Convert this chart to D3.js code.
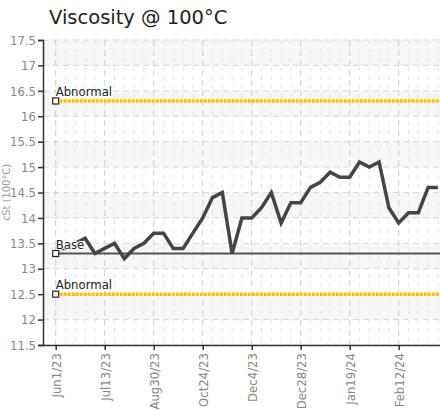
<html>
  <head>
    <title>Viscosity</title>
    <style>
      body { margin: 0; background: #fff; }
      text { font-family: "Liberation Sans Narrow", "DejaVu Sans Condensed", sans-serif; }
    </style>
  </head>
  <body>
  </body>

  <script src="https://d3js.org/d3.v7.min.js" charset="utf-8"></script>
  <script type="text/javascript">

// one reading per sample, labels only shown on every 5th sample
var viscosity = [13.4, 13.4, 13.5, 13.6, 13.3, 13.4, 13.5, 13.2, 13.4, 13.5,
                 13.7, 13.7, 13.4, 13.4, 13.7, 14.0, 14.4, 14.5, 13.3, 14.0,
                 14.0, 14.2, 14.5, 13.9, 14.3, 14.3, 14.6, 14.7, 14.9, 14.8,
                 14.8, 15.1, 15.0, 15.1, 14.2, 13.9, 14.1, 14.1, 14.6, 14.6];
var tick_index = [0, 5, 10, 15, 20, 25, 30, 35];
var tick_labels = ['Jun1/23', 'Jul13/23', 'Aug30/23', 'Oct24/23', 'Dec4/23', 'Dec28/23', 'Jan19/24', 'Feb12/24'];
var y_ticks = [11.5, 12, 12.5, 13, 13.5, 14, 14.5, 15, 15.5, 16, 16.5, 17, 17.5];

var limit_names = ['Abnormal', 'Base', 'Abnormal'];
var limit_values = [16.3, 13.3, 12.5];
var limit_kind = ['abnormal', 'base', 'abnormal'];

var w = 440, h = 411;
var m_left = 43, m_top = 40, m_bottom = 345, m_right = 445;

var svg = d3.select('body').append('svg')
    .attr('width', w)
    .attr('height', h);

var x = d3.scaleLinear().domain([0, viscosity.length - 1]).range([55.7, 437.9]);
var y = d3.scaleLinear().domain([11.5, 17.5]).range([m_bottom, m_top]);

// alternating bands
svg.selectAll('rect.band')
   .data(y_ticks.slice(0, -1))
   .enter()
   .append('rect')
   .attr('x', m_left)
   .attr('width', m_right - m_left)
   .attr('y', function(d){ return y(d + 0.5); })
   .attr('height', function(d){ return y(d) - y(d + 0.5); })
   .style('fill', function(d, i){
     return (i % 2 == 1) ? '#f6f6f6' : '#fff';
   });

// horizontal grid
svg.selectAll('line.hgrid')
   .data(y_ticks)
   .enter()
   .append('line')
   .attr('x1', m_left).attr('x2', m_right)
   .attr('y1', function(d){ return y(d); })
   .attr('y2', function(d){ return y(d); })
   .style('stroke', '#d8d8d8')
   .style('stroke-dasharray', '6,4');

// vertical grid, one per sample
svg.selectAll('line.vgrid')
   .data(d3.range(viscosity.length))
   .enter()
   .append('line')
   .attr('x1', function(d){ return x(d); })
   .attr('x2', function(d){ return x(d); })
   .attr('y1', m_top).attr('y2', m_bottom)
   .style('stroke', function(d){ return (d % 5 == 0) ? '#d0d0d0' : '#e6e6e6'; })
   .style('stroke-dasharray', function(d){ return (d % 5 == 0) ? '6,4' : '4,5'; });

// limit lines
var limits = limit_values.map(function(v, i){
  return {name: limit_names[i], value: v, kind: limit_kind[i]};
});

svg.selectAll('line.limit')
   .data(limits)
   .enter()
   .append('line')
   .attr('x1', x(0)).attr('x2', m_right)
   .attr('y1', function(d){ return y(d.value); })
   .attr('y2', function(d){ return y(d.value); })
   .style('stroke', function(d){ return d.kind == 'base' ? '#555' : '#f7c300'; })
   .style('stroke-width', function(d){ return d.kind == 'base' ? 2 : 3.5; })
   .style('stroke-dasharray', function(d){ return d.kind == 'base' ? null : '3,1'; });

// data line
var line = d3.line()
    .x(function(d, i){ return x(i); })
    .y(function(d){ return y(d); });

svg.append('path')
   .datum(viscosity)
   .attr('d', line)
   .style('fill', 'none')
   .style('stroke', '#444')
   .style('stroke-width', 3.5)
   .style('stroke-linejoin', 'miter');

// limit markers and labels
svg.selectAll('rect.marker')
   .data(limits)
   .enter()
   .append('rect')
   .attr('x', x(0) - 3)
   .attr('y', function(d){ return y(d.value) - 3; })
   .attr('width', 6).attr('height', 6)
   .style('fill', '#fff')
   .style('stroke', '#222')
   .style('stroke-width', 1.2);

svg.selectAll('text.limit')
   .data(limits)
   .enter()
   .append('text')
   .attr('x', x(0))
   .attr('y', function(d){ return y(d.value) - 5; })
   .text(function(d){ return d.name; })
   .style('font-size', '13px')
   .style('fill', '#222')
   .style('stroke', '#fff')
   .style('stroke-width', 2)
   .style('paint-order', 'stroke');

// axes
var yAxis = d3.axisLeft(y)
    .tickValues(y_ticks)
    .tickFormat(function(d){ return d3.format('')(d); })
    .tickSize(5);

var gy = svg.append('g')
   .attr('transform', 'translate(' + m_left + ',0)')
   .call(yAxis);

gy.selectAll('text')
  .style('font-size', '13px')
  .style('fill', '#888')
  .attr('x', -7);

var xAxis = d3.axisBottom(x)
    .tickValues(tick_index)
    .tickFormat(function(d, i){ return tick_labels[i]; })
    .tickSize(5)
    .tickSizeOuter(0);

var gx = svg.append('g')
   .attr('transform', 'translate(0,' + m_bottom + ')')
   .call(xAxis);

gx.select('.domain').attr('d', 'M' + m_left + ',0.5H' + m_right);

gx.selectAll('text')
  .style('font-size', '13px')
  .style('fill', '#888')
  .style('text-anchor', 'end')
  .attr('transform', 'rotate(-90)')
  .attr('x', -8)
  .attr('y', 0)
  .attr('dy', '0.35em');

svg.selectAll('.domain, .tick line')
   .style('stroke', '#333')
   .style('stroke-width', 1.5);

// titles
svg.append('text')
   .attr('x', 49)
   .attr('y', 24)
   .text('Viscosity @ 100°C')
   .style('font-family', '"DejaVu Sans", sans-serif')
   .style('font-size', '19.5px')
   .style('fill', '#222');

svg.append('text')
   .attr('transform', 'translate(10,' + y(14.5) + ') rotate(-90)')
   .attr('text-anchor', 'middle')
   .text('cSt (100°C)')
   .style('font-size', '11px')
   .style('fill', '#999');

  </script>
</html>
